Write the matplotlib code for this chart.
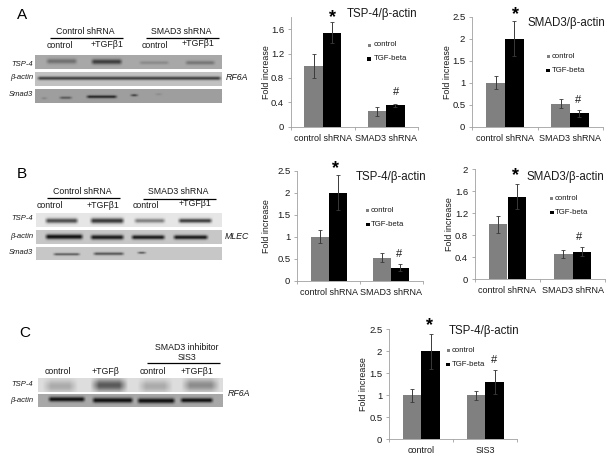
import numpy as np
import matplotlib
matplotlib.use("Agg")
import matplotlib.pyplot as plt
from matplotlib.patches import Rectangle

plt.rcParams['font.family'] = ['Liberation Sans', 'DejaVu Sans']

W, H = 613, 463

# chart values
shrna_groups = ["control shRNA", "SMAD3 shRNA"]
sis3_groups = ["control", "SIS3"]

a1_control = [1.0, 0.25]
a1_control_err = [0.2, 0.07]
a1_tgf = [1.54, 0.35]
a1_tgf_err = [0.17, 0.03]

a2_control = [1.0, 0.52]
a2_control_err = [0.15, 0.1]
a2_tgf = [2.0, 0.3]
a2_tgf_err = [0.4, 0.07]

b1_control = [1.0, 0.52]
b1_control_err = [0.15, 0.1]
b1_tgf = [2.0, 0.3]
b1_tgf_err = [0.4, 0.07]

b2_control = [1.0, 0.46]
b2_control_err = [0.16, 0.08]
b2_tgf = [1.5, 0.5]
b2_tgf_err = [0.23, 0.08]

c_control = [1.0, 1.0]
c_control_err = [0.15, 0.1]
c_tgf = [2.0, 1.3]
c_tgf_err = [0.4, 0.27]

ticks_18 = [0, 0.4, 0.8, 1.2, 1.6]
ticks_18_labels = ["0", "0.4", "0.8", "1.2", "1.6"]
ticks_25 = [0, 0.5, 1, 1.5, 2, 2.5]
ticks_25_labels = ["0", "0.5", "1", "1.5", "2", "2.5"]
ticks_20 = [0, 0.4, 0.8, 1.2, 1.6, 2]
ticks_20_labels = ["0", "0.4", "0.8", "1.2", "1.6", "2"]

fig = plt.figure(figsize=(W / 100, H / 100), dpi=100, facecolor='white')


def bar_chart(box, ymax, ticks, tick_labels, groups, ctrl, ctrl_err, tgf, tgf_err, ylab_x, pad=5):
    left, right, top, bottom = box
    ax = fig.add_axes([left / W, 1 - bottom / H, (right - left) / W, (bottom - top) / H])
    x = np.arange(len(groups)) + 0.5
    w = 0.288
    err = dict(ecolor='#3a3a3a', elinewidth=0.7, capsize=1.5, capthick=0.6)
    ax.bar(x - w / 2, ctrl, w, color='#808080', yerr=ctrl_err, error_kw=err)
    ax.bar(x + w / 2, tgf, w, color='black', yerr=tgf_err, error_kw=err)
    ax.set_xlim(0, len(groups))
    ax.set_ylim(0, ymax)
    ax.set_yticks(ticks)
    ax.set_yticklabels(tick_labels, fontsize=6.8, color='#1a1a1a')
    ax.set_xticks(range(len(groups) + 1))
    ax.set_xticklabels([])
    ax.set_xticks(x, minor=True)
    ax.set_xticklabels(groups, minor=True, fontsize=6.5, color='#1a1a1a')
    ax.tick_params(axis='x', which='minor', length=0, pad=pad)
    ax.tick_params(axis='both', which='major', length=2, width=0.6, color='#a0a0a0', pad=3)
    for s in ['top', 'right']:
        ax.spines[s].set_visible(False)
    for s in ['left', 'bottom']:
        ax.spines[s].set_color('#a0a0a0')
        ax.spines[s].set_linewidth(0.6)
    ax.set_ylabel("Fold increase", fontsize=6.4, color='#1a1a1a')
    ax.yaxis.set_label_coords((ylab_x + 6 - left) / (right - left), 0.5)
    return ax


bar_chart((291, 418, 17, 126.7), 1.8, ticks_18, ticks_18_labels, shrna_groups,
          a1_control, a1_control_err, a1_tgf, a1_tgf_err, 265)
bar_chart((472.3, 602.7, 16.7, 126.7), 2.5, ticks_25, ticks_25_labels, shrna_groups,
          a2_control, a2_control_err, a2_tgf, a2_tgf_err, 446)
bar_chart((297.3, 422.7, 170.7, 280.7), 2.5, ticks_25, ticks_25_labels, shrna_groups,
          b1_control, b1_control_err, b1_tgf, b1_tgf_err, 265)
bar_chart((475, 605, 169.3, 279.3), 2, ticks_20, ticks_20_labels, shrna_groups,
          b2_control, b2_control_err, b2_tgf, b2_tgf_err, 447.7)
bar_chart((389.3, 517.3, 329.3, 439.3), 2.5, ticks_25, ticks_25_labels, sis3_groups,
          c_control, c_control_err, c_tgf, c_tgf_err, 362)

# everything else sits on one overlay in image pixels
ov = fig.add_axes([0, 0, 1, 1], zorder=5)
ov.patch.set_alpha(0)
ov.axis('off')


def blot(x0, x1, y0, y1, bg, bands, soft=4):
    xs = np.arange(x0, x1, 0.5)
    ys = np.arange(y0, y1, 0.5)
    xx, yy = np.meshgrid(xs, ys)
    img = np.full(xx.shape, bg, dtype=float)
    for bx0, bx1, yc, dark, sig in bands:
        taper = np.clip((xx - bx0) / soft, 0, 1) * np.clip((bx1 - xx) / soft, 0, 1)
        img -= dark * np.exp(-((yy - yc) / sig) ** 2) * taper
    ov.imshow(np.clip(img, 0, 1), cmap='gray', vmin=0, vmax=1, aspect='auto',
              extent=(x0, x1, y1, y0), interpolation='bilinear')


# panel A blots
blot(35, 222, 55, 69, 0.66, [(45, 78, 61, 0.22, 2.5), (90, 123, 61.5, 0.42, 2.5),
                             (138, 170, 62.5, 0.12, 1.6), (184, 216, 62.5, 0.2, 1.9)])
blot(35, 222, 72, 86, 0.76, [(36, 222, 78, 0.52, 1.7)])
blot(35, 222, 89, 103, 0.62, [(40, 48, 98, 0.12, 1), (58, 73, 97.5, 0.28, 1.2), (85, 118, 96.5, 0.48, 1.4),
                              (129, 139, 95, 0.38, 1.1), (154, 163, 94, 0.08, 1)])
# panel B blots
blot(36, 222, 213, 227, 0.9, [(44, 79, 220.5, 0.6, 2.4), (89, 125, 220.5, 0.68, 2.6),
                              (133, 166, 220.5, 0.4, 2.1), (177, 213, 220.5, 0.66, 2.1)])
blot(36, 222, 230, 244, 0.78, [(44, 84, 236.5, 0.72, 2.4), (89, 125, 237, 0.68, 2.3),
                               (130, 166, 237, 0.68, 2.1), (172, 209, 237, 0.68, 2.1)])
blot(36, 222, 247, 260, 0.78, [(52, 81, 254, 0.42, 1.2), (92, 125, 253.5, 0.45, 1.4), (136, 147, 252.5, 0.45, 1)])
# panel C blots
blot(38, 223, 378, 392, 0.87, [(42, 78, 386, 0.2, 6), (90, 128, 385, 0.52, 6),
                               (137, 173, 386, 0.2, 6), (181, 220, 385, 0.32, 6)], soft=9)
blot(38, 223, 394, 407, 0.66, [(47, 86, 399, 0.6, 2.3), (91, 134, 400, 0.6, 2.5),
                               (136, 176, 400.5, 0.6, 2.5), (179, 214, 400, 0.6, 2.2)])

ov.set_xlim(0, W)
ov.set_ylim(H, 0)


def txt(x, y, s, size=6.3, **kw):
    kw.setdefault('color', '#1a1a1a')
    ov.text(x, y, s, fontsize=size, ha=kw.pop('ha', 'center'), va='center', **kw)


def rule(x0, x1, y):
    ov.plot([x0, x1], [y, y], color='black', lw=0.9, solid_capstyle='butt')


def row_labels(items):
    for y, s in items:
        txt(33, y, s, size=5.5, ha='right', style='italic')


def key(x, y1, y2, tx):
    ov.add_patch(Rectangle((x - 1.5, y1 - 1.5), 3, 3, color='#808080', lw=0))
    ov.add_patch(Rectangle((x - 2, y2 - 1.7), 4, 3.4, color='black', lw=0))
    txt(tx, y1, "control", size=5.6, ha='left')
    txt(tx, y2, "TGF-beta", size=5.6, ha='left')


# panel letters
txt(22, 15, "A", size=11, color='black')
txt(22, 174, "B", size=11, color='black')
txt(25, 333, "C", size=11, color='black')

# panel A text
txt(85, 31, "Control shRNA")
txt(181.7, 31, "SMAD3 shRNA")
rule(50, 123, 37.5)
rule(146, 219, 37.5)
txt(60, 45, "control")
txt(107, 44.5, "+TGFβ1")
txt(155, 45, "control")
txt(198, 44, "+TGFβ1")
row_labels([(64, "TSP-4"), (77.5, "β-actin"), (95, "Smad3")])
txt(237, 78, "RF6A", style='italic')

# panel B text
txt(82, 192, "Control shRNA")
txt(178, 192, "SMAD3 shRNA")
rule(47, 120, 198)
rule(143, 216, 198.5)
txt(50, 205, "control")
txt(103, 205, "+TGFβ1")
txt(146, 205, "control")
txt(195, 204, "+TGFβ1")
row_labels([(219, "TSP-4"), (236, "β-actin"), (253, "Smad3")])
txt(237, 236.5, "MLEC", style='italic')

# panel C text
txt(187, 348, "SMAD3 inhibitor")
txt(187, 358, "SIS3")
rule(147, 220, 363)
txt(58, 372, "control")
txt(105, 372, "+TGFβ")
txt(153, 372, "control")
txt(197, 372, "+TGFβ1")
row_labels([(384, "TSP-4"), (400, "β-actin")])
txt(239, 393, "RF6A", style='italic')

# chart titles
txt(382, 14, "TSP-4/β-actin", size=8.3)
txt(566, 22.7, "SMAD3/β-actin", size=8.3)
txt(390.7, 176.7, "TSP-4/β-actin", size=8.3)
txt(565, 176.7, "SMAD3/β-actin", size=8.3)
txt(484, 330.7, "TSP-4/β-actin", size=8.3)

# keys
key(369.3, 45, 59, 374)
key(548, 56.7, 70.7, 551.7)
key(367.7, 210.7, 224.7, 370.7)
key(551.7, 198.3, 212.3, 555)
key(448, 350.7, 364.3, 452)

# significance marks, the asterisk glyph rides high so it is nudged down
for x, y in [(332.7, 15), (515, 11.7), (336, 165.7), (515.7, 173), (430, 322.7)]:
    txt(x, y + 2.5, "*", size=13, color='black', fontweight='bold')
for x, y in [(396, 92.3), (578, 100), (399.3, 254), (579, 236.7), (494, 360)]:
    txt(x, y, "#", size=8)

fig.savefig("out.png", dpi=100)
